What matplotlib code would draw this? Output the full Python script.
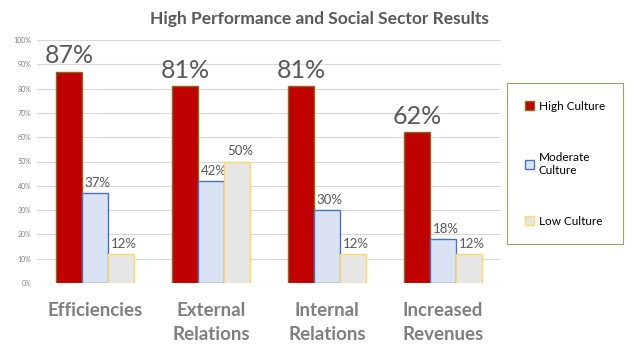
import numpy as np
import matplotlib
matplotlib.use("Agg")
import matplotlib.pyplot as plt
from matplotlib.patches import Patch

plt.rcParams['font.family'] = ['Lato', 'DejaVu Sans']

categories = ["Efficiencies", "External\nRelations", "Internal\nRelations", "Increased\nRevenues"]
series = ["High Culture", "Moderate\nCulture", "Low Culture"]
high = [87, 81, 81, 62]
moderate = [37, 42, 30, 18]
low = [12, 50, 12, 12]
yticks = list(range(0, 101, 10))

fills = ["#C00000", "#DAE3F3", "#E7E6E6"]
edges = ["#8B6914", "#4472C4", "#FFD966"]
grey = "#595959"

fig = plt.figure(figsize=(6.38, 3.59), dpi=100)
ax = fig.add_axes([37/638, 1-283/359, 464/638, 243/359])

x = np.arange(len(categories))
w = 0.224
for k, vals in enumerate([high, moderate, low]):
    pos = x + (k - 1) * w
    ax.bar(pos, vals, w, color=fills[k], edgecolor=edges[k], linewidth=1.0, zorder=3)
    for p, v in zip(pos, vals):
        if k == 0:
            ax.annotate(f"{v}%", (p, v), xytext=(0, 3), textcoords="offset points",
                        ha="center", va="bottom", fontsize=18, color=grey)
        else:
            ax.annotate(f"{v}%", (p, v), xytext=(2, 3), textcoords="offset points",
                        ha="center", va="bottom", fontsize=9.5, color=grey)

ax.set_xlim(-0.5, 3.5)
ax.set_ylim(0, 100)
ax.set_yticks(yticks)
ax.set_yticklabels([f"{t}%" for t in yticks], fontsize=5, color="#808080")
ax.set_xticks(x)
ax.set_xticklabels(categories, fontsize=13.5, color="#7F7F7F", fontweight="bold",
                   linespacing=1.45, va="top")
ax.tick_params(axis="x", length=0, pad=14)
ax.tick_params(axis="y", length=0, pad=4)
ax.grid(axis="y", color="#D9D9D9", linewidth=0.8, zorder=0)
for s in ax.spines.values():
    s.set_visible(False)

fig.text(0.5, 1-19/359, "High Performance and Social Sector Results", ha="center", va="center",
         fontsize=12.5, fontweight="bold", color=grey)

handles = [Patch(facecolor=fills[k], edgecolor=edges[k], linewidth=1.0) for k in range(3)]
leg = fig.legend(handles, series, loc="upper left", bbox_to_anchor=(507/638, 1-83/359),
                 fontsize=8.5, frameon=True, fancybox=False, labelspacing=3.4,
                 handlelength=0.8, handleheight=0.8, handletextpad=0.4,
                 borderpad=1.5, borderaxespad=0)
leg.get_frame().set_edgecolor("#77933C")
leg.get_frame().set_linewidth(0.8)

fig.savefig("out.png", dpi=100)
